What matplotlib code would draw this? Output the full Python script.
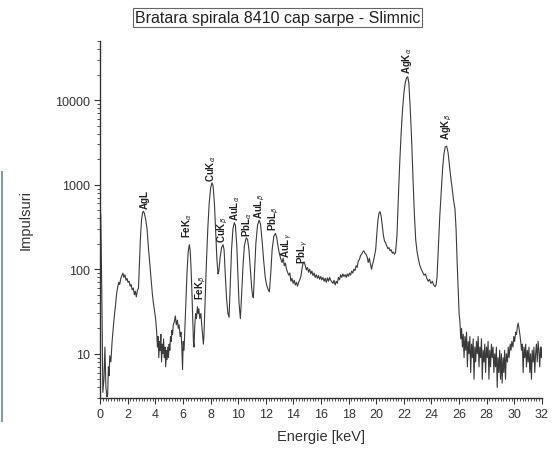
# XRF spectrum - Bratara spirala 8410 cap sarpe - Slimnic
import numpy as np
import matplotlib
matplotlib.use('Agg')
import matplotlib.pyplot as plt
from matplotlib.lines import Line2D
from matplotlib.ticker import LogLocator, MultipleLocator, FixedLocator

plt.rcParams['font.family'] = ['Liberation Sans', 'DejaVu Sans']
plt.rcParams['mathtext.fontset'] = 'dejavusans'

# spectrum, in segments (energy in keV, counts)
low_e = [0.0, 0.05, 0.12, 0.2, 0.28, 0.35, 0.42, 0.5, 0.55, 0.6, 0.65, 0.7, 0.78, 0.87, 0.95,
         1.05, 1.12, 1.2, 1.28, 1.35, 1.42, 1.5, 1.58, 1.65, 1.72, 1.8, 1.88, 1.95, 2.02, 2.1,
         2.18, 2.25, 2.32, 2.4, 2.48, 2.55, 2.62, 2.7, 2.78,
         2.85, 2.92, 3.0, 3.08, 3.14, 3.2, 3.3, 3.4, 3.5, 3.6, 3.7, 3.78, 3.86, 3.94, 4.02]
low_c = [520, 430, 60, 3.5, 5, 12, 4, 3.1, 3.3, 7, 5.5, 9.5, 8, 14, 20,
         30, 38, 52, 62, 70, 66, 78, 84, 90, 80, 86, 74, 78, 70, 72,
         63, 66, 57, 60, 50, 55, 47, 56, 60,
         120, 230, 380, 470, 485, 460, 390, 300, 180, 115, 72, 52, 40, 32, 26]

mid_e = [4.1, 4.15, 4.2, 4.25, 4.3, 4.35, 4.4, 4.45, 4.5, 4.55, 4.6, 4.65, 4.7, 4.75, 4.8,
         4.85, 4.9, 4.95, 5.0, 5.05, 5.1, 5.15, 5.2, 5.25, 5.3, 5.38, 5.45, 5.52, 5.6, 5.66,
         5.72, 5.8, 5.86, 5.92, 5.97, 6.02, 6.08, 6.15,
         6.22, 6.3, 6.38, 6.46, 6.52, 6.58, 6.64, 6.7, 6.76, 6.8, 6.86, 6.92, 6.98, 7.05, 7.1,
         7.15, 7.22, 7.3, 7.36, 7.42, 7.48, 7.52,
         7.6, 7.7, 7.8, 7.9, 8.0, 8.1, 8.18, 8.28, 8.38, 8.46, 8.54, 8.6,
         8.7, 8.8, 8.9, 8.98, 9.06, 9.16, 9.26, 9.34,
         9.42, 9.52, 9.62, 9.72, 9.8, 9.9, 9.98, 10.06, 10.16,
         10.25, 10.35, 10.45, 10.58, 10.68, 10.78, 10.88, 10.98, 11.05, 11.1,
         11.18, 11.28, 11.4, 11.52, 11.62, 11.72, 11.84, 11.96, 12.06, 12.16, 12.26,
         12.36, 12.46, 12.58, 12.7, 12.8, 12.9, 13.0, 13.1, 13.18, 13.26, 13.34, 13.42, 13.5,
         13.58, 13.66, 13.74, 13.82, 13.9, 13.98, 14.06, 14.14, 14.22, 14.3, 14.38, 14.46, 14.54]
mid_c = [18, 12, 16, 9, 14, 11, 17, 8, 13, 10, 15, 9, 12, 7, 11,
         8.5, 12, 9, 13, 11, 16, 14, 19, 17, 22, 24, 28, 22, 25, 20,
         22, 16, 18, 12, 6.5, 14, 11, 22,
         45, 95, 160, 195, 170, 110, 60, 28, 14, 12, 22, 30, 26, 36, 30,
         34, 26, 30, 22, 17, 13, 16,
         40, 120, 300, 600, 900, 1050, 980, 600, 250, 130, 88, 95,
         140, 180, 195, 170, 90, 45, 30, 27,
         60, 170, 300, 355, 330, 190, 90, 40, 26,
         50, 110, 190, 235, 225, 170, 100, 60, 48, 46,
         90, 200, 330, 380, 340, 230, 130, 80, 65, 58, 54,
         90, 170, 245, 265, 235, 180, 150, 130, 120, 135, 110, 118, 100,
         92, 85, 90, 72, 78, 68, 74, 65, 70, 63, 70, 75, 82]

plateau_e = [14.62, 14.7, 14.78, 14.86, 14.94, 15.02, 15.1, 15.18, 15.26, 15.34, 15.42, 15.5,
             15.58, 15.66, 15.74, 15.82, 15.9, 15.98, 16.06, 16.14, 16.22, 16.3, 16.38, 16.46,
             16.54, 16.62, 16.7, 16.78, 16.86, 16.94, 17.02, 17.1, 17.18, 17.26, 17.34, 17.42,
             17.5, 17.58, 17.66, 17.74, 17.82, 17.9, 17.98, 18.06, 18.14, 18.22, 18.3, 18.38,
             18.46, 18.54, 18.62, 18.7, 18.78, 18.86, 18.94, 19.02, 19.1, 19.18, 19.26, 19.34,
             19.42, 19.5, 19.58, 19.66, 19.72, 19.8, 19.88, 19.96,
             20.04, 20.12, 20.2, 20.28, 20.36, 20.44, 20.52, 20.6, 20.68, 20.76, 20.84, 20.92,
             21.0, 21.08, 21.16, 21.24, 21.32, 21.4]
plateau_c = [100, 118, 122, 110, 98, 105, 92, 100, 88, 95, 84, 90,
             80, 86, 78, 84, 76, 82, 75, 80, 72, 78, 70, 79,
             72, 80, 74, 71, 68, 74, 65, 72, 68, 80, 75, 86,
             80, 88, 82, 86, 80, 88, 82, 90, 85, 95, 90, 100,
             96, 110, 105, 125, 130, 145, 150, 160, 165, 155, 150, 140,
             120, 135, 115, 100, 112, 125, 145, 170,
             260, 380, 460, 480, 420, 320, 250, 215, 205, 190, 175, 180,
             165, 170, 155, 160, 150, 158]

agk_e = [21.5, 21.6, 21.7, 21.8, 21.9, 22.0, 22.1, 22.2, 22.28, 22.36, 22.46, 22.56, 22.66,
         22.76, 22.86, 22.96, 23.06, 23.16, 23.26, 23.36, 23.46, 23.56, 23.66, 23.76, 23.86,
         23.96, 24.06, 24.16, 24.26, 24.34, 24.4,
         24.5, 24.6, 24.7, 24.8, 24.9, 25.0, 25.1, 25.2, 25.3, 25.4, 25.5, 25.6, 25.7, 25.78,
         25.86, 25.94, 26.0, 26.06]
agk_c = [250, 700, 1800, 4000, 7500, 12000, 16000, 18500, 18800, 16000, 8000, 3500, 1200,
         450, 220, 160, 130, 110, 100, 92, 85, 88, 78, 72, 76,
         68, 72, 65, 62, 66, 80,
         180, 420, 800, 1500, 2300, 2800, 2850, 2400, 1700, 1200, 900, 650, 520, 300,
         120, 55, 30, 24]

tail_e = [26.12, 26.18, 26.24, 26.3, 26.36, 26.42, 26.48, 26.54, 26.6, 26.66, 26.72, 26.78,
          26.84, 26.9, 26.96, 27.02, 27.08, 27.14, 27.2, 27.26, 27.32, 27.38, 27.44, 27.5,
          27.56, 27.62, 27.68, 27.74, 27.8, 27.86, 27.92, 27.98, 28.04, 28.1, 28.16, 28.22,
          28.28, 28.34, 28.4, 28.46, 28.52, 28.58, 28.64, 28.7, 28.76, 28.82, 28.88, 28.94,
          29.0, 29.06, 29.12, 29.18, 29.24, 29.3, 29.36, 29.42, 29.5, 29.56, 29.62, 29.7,
          29.76, 29.82, 29.9, 29.96, 30.02, 30.1, 30.16, 30.22, 30.28, 30.34, 30.4, 30.46,
          30.52, 30.58, 30.64, 30.7, 30.76, 30.82, 30.88, 30.94, 31.0, 31.06, 31.12, 31.18,
          31.24, 31.3, 31.36, 31.42, 31.48, 31.54, 31.6, 31.66, 31.72, 31.78, 31.84, 31.9,
          31.96, 32.0]
tail_c = [15, 20, 12, 17, 9, 16, 11, 18, 7, 14, 10, 16,
          6, 13, 9, 15, 5, 12, 8, 14, 10, 16, 7, 12,
          9, 15, 5, 11, 8, 13, 6, 12, 9, 14, 5, 11,
          7, 13, 9, 12, 6, 10, 7, 12, 4, 9, 6, 11,
          5, 10, 4.5, 9, 6, 11, 5, 10, 8, 12, 9, 13,
          11, 14, 12, 16, 14, 18, 17, 21, 23, 20, 17, 14,
          11, 13, 6, 12, 9, 13, 7, 11, 8, 12, 6, 10,
          5, 11, 8, 12, 6, 10, 13, 8, 14, 11, 7, 12,
          9, 12]

# peak labels: name, energy, counts at the label base
peak_names = ['AgL', 'FeK$_{\\alpha}$', 'FeK$_{\\beta}$', 'CuK$_{\\alpha}$', 'CuK$_{\\beta}$',
              'AuL$_{\\alpha}$', 'PbL$_{\\alpha}$', 'AuL$_{\\beta}$', 'PbL$_{\\beta}$',
              'AuL$_{\\gamma}$', 'PbL$_{\\gamma}$', 'AgK$_{\\alpha}$', 'AgK$_{\\beta}$']
peak_e = [3.27, 6.3, 7.3, 8.05, 8.9, 9.8, 10.65, 11.55, 12.55, 13.55, 14.7, 22.2, 25.1]
peak_c = [525, 240, 45, 1100, 212, 380, 250, 400, 290, 140, 117, 21000, 3500]

energy = np.array(low_e + mid_e + plateau_e + agk_e + tail_e)
counts = np.array(low_c + mid_c + plateau_c + agk_c + tail_c)

fig = plt.figure(figsize=(5.53, 4.56), dpi=100)
ax = fig.add_axes([0.181, 0.125, 0.799, 0.783])

ax.plot(energy, counts, color='#3a3a3a', lw=0.8)

for name, e, c in zip(peak_names, peak_e, peak_c):
    ax.text(e, c, name, rotation=90, ha='center', va='bottom', fontsize=7,
            fontweight='bold', color='#222222')

ax.set_yscale('log')
ax.set_xlim(0, 32)
ax.set_ylim(3, 50000)
ax.xaxis.set_major_locator(MultipleLocator(2))
ax.xaxis.set_minor_locator(MultipleLocator(0.2))
ax.yaxis.set_major_locator(FixedLocator([10, 100, 1000, 10000]))
ax.yaxis.set_minor_locator(LogLocator(base=10, subs=np.arange(2, 10)))
ax.yaxis.set_minor_formatter(plt.NullFormatter())
ax.set_yticklabels(['10', '100', '1000', '10000'])

ax.spines['top'].set_visible(False)
ax.spines['right'].set_visible(False)
for s in ['left', 'bottom']:
    ax.spines[s].set_color('#333333')
    ax.spines[s].set_linewidth(1.0)
ax.tick_params(which='major', direction='out', length=4, width=0.8, labelsize=9,
               colors='#333333')
ax.tick_params(which='minor', direction='out', length=2, width=0.6, colors='#333333')

ax.set_xlabel('Energie [keV]', fontsize=10.5, color='#333333', labelpad=6)
ax.set_ylabel('Impulsuri', fontsize=10.5, color='#333333', labelpad=16)

fig.text(0.502, 0.96, 'Bratara spirala 8410 cap sarpe - Slimnic', ha='center', va='center',
         fontsize=11.5, color='#222222',
         bbox=dict(boxstyle='square,pad=0.12', fc='white', ec='#666666', lw=0.8))

# scan edge line at the far left
fig.add_artist(Line2D([0.004, 0.004], [0.075, 0.62], color='#8a9aa2', lw=1.5))

fig.savefig('out.png', dpi=100)
